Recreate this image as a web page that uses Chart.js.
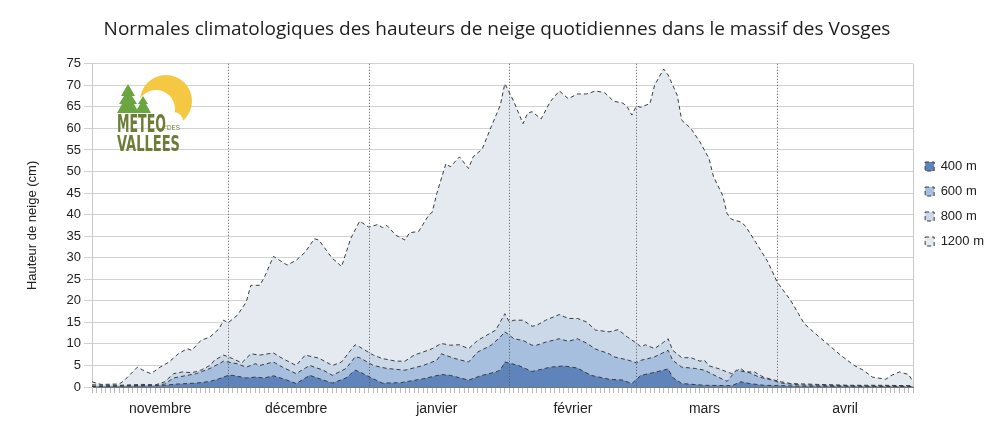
<!DOCTYPE html>
<html lang="fr">
<head>
<meta charset="utf-8">
<script src="https://cdn.jsdelivr.net/npm/chart.js@4"></script>
<style>
  body { margin: 0; background: #fff; }
  #wrap { position: relative; width: 1000px; height: 434px; }
  #logo { position: absolute; left: 0; top: 0; pointer-events: none; }
</style>
</head>
<body>
<div id="wrap">
  <canvas id="snowChart" width="1000" height="434"></canvas>
  <svg id="logo" width="1000" height="434">
    <circle cx="166" cy="101" r="26" fill="#f4c842"/>
    <circle cx="156" cy="109" r="19" fill="#fff"/>
    <circle cx="143" cy="114" r="12" fill="#fff"/>
    <circle cx="174" cy="121" r="9" fill="#fff"/>
    <polygon points="128,84 121,96 124,96 119,104 122,104 117,113 139,113 134,104 137,104 132,96 135,96" fill="#6aa63f"/>
    <polygon points="143,96 138,104 140,104 135,113 151,113 146,104 148,104" fill="#6aa63f"/>
    <text x="117" y="132" font-family="Liberation Sans Narrow, DejaVu Sans Condensed, sans-serif" font-weight="bold" font-size="25" fill="#6b7d36" textLength="49" lengthAdjust="spacingAndGlyphs">METEO</text>
    <text x="167" y="130" font-family="Liberation Sans Narrow, sans-serif" font-size="7" fill="#6b7d36" textLength="13" lengthAdjust="spacingAndGlyphs">DES</text>
    <text x="117" y="151" font-family="Liberation Sans Narrow, DejaVu Sans Condensed, sans-serif" font-weight="bold" font-size="22" fill="#6b7d36" textLength="63" lengthAdjust="spacingAndGlyphs">VALLEES</text>
  </svg>
</div>
<script>
// jours comptés depuis le 1er novembre
const months = ['novembre', 'décembre', 'janvier', 'février', 'mars', 'avril'];
const monthStarts = [30, 61, 92, 120, 151];
const monthLabelDays = [15, 45, 76, 106, 135, 166];
const yTicks = [0, 5, 10, 15, 20, 25, 30, 35, 40, 45, 50, 55, 60, 65, 70, 75];

const days400 = [0,14,16,19,23,26,28,30,31,34,36,38,40,43,45,48,51,53,56,58,59,62,64,68,73,77,79,83,86,89,90,91,94,97,101,104,107,110,114,117,119,121,124,127,128,130,135,141,143,145,148,156,181];
const snow400 = [0.1,0.3,0.4,0.7,0.9,1.3,1.9,2.7,2.7,2.1,2.3,2.1,2.6,1.6,0.8,2.7,1.6,0.9,2.1,3.9,3.5,1.9,0.9,1.0,1.9,2.9,2.7,1.6,2.7,3.5,3.9,5.8,5.0,3.6,4.6,4.9,4.4,2.7,1.8,1.6,0.8,2.7,3.4,4.2,2.2,0.8,0.4,0.3,1.2,0.8,0.4,0.2,0.1];

const days600 = [0,14,16,18,21,23,26,28,29,32,34,36,37,40,42,45,48,51,53,56,58,59,62,65,69,73,76,77,80,83,85,88,90,91,93,95,97,98,100,103,105,107,109,111,114,115,118,120,121,123,124,127,128,130,133,135,138,140,142,145,147,150,152,156,167,181];
const snow600 = [0.2,0.4,0.7,2.1,2.7,3.1,4.3,5.4,6.0,5.4,4.6,5.4,5.0,5.8,4.6,3.1,5.0,3.9,2.7,4.3,7.0,6.8,5.0,4.3,3.9,5.0,6.2,7.7,6.6,5.8,8.1,9.7,11.6,12.8,11.2,10.8,9.7,9.7,10.4,11.2,10.6,11.2,10.2,8.8,7.7,7.0,6.3,5.6,6.2,6.7,7.0,8.5,6.2,4.6,4.3,3.9,2.3,1.3,3.9,3.3,2.3,1.6,0.9,0.5,0.3,0.2];

const days800 = [0,6,11,14,16,18,20,22,24,26,27,29,31,33,35,37,40,42,45,47,50,53,55,57,58,59,62,64,67,69,71,74,75,77,79,81,83,85,87,89,91,92,93,95,97,98,100,103,105,107,109,111,114,116,118,120,121,122,124,126,127,128,130,132,134,135,136,138,140,141,143,144,146,148,150,152,154,160,167,174,181];
const snow800 = [0.5,0.4,0.6,0.5,1.2,3.1,3.5,3.3,3.9,5.0,6.2,7.4,6.6,5.6,7.7,7.4,7.9,6.6,5.0,7.4,6.7,5.0,5.8,8.5,9.8,9.3,7.4,6.6,6.0,6.0,7.4,8.5,8.9,10.1,9.7,9.8,8.9,10.8,12.0,13.2,17.0,15.1,15.5,15.5,14.1,14.3,15.5,16.8,15.9,15.9,15.1,13.2,12.8,13.3,11.6,10.2,9.3,9.8,8.9,10.4,11.2,8.5,6.8,6.8,6.0,6.2,4.9,4.3,3.5,3.1,4.3,3.5,3.5,2.3,1.7,1.2,0.8,0.6,0.4,0.4,0.3];

const days1200 = [0,2,6,7,10,12,13,15,17,19,21,22,24,26,28,29,30,32,34,35,37,38,40,43,45,47,49,50,53,54,55,57,59,61,63,64,65,67,69,70,72,74,75,76,78,79,81,83,84,86,88,90,91,93,95,96,97,99,101,103,105,107,109,111,113,115,117,118,119,120,121,123,124,126,127,129,130,132,134,136,137,139,140,141,143,144,146,149,151,154,157,159,162,165,168,170,172,175,176,178,180,181];
const snow1200 = [1.2,0.6,0.7,1.4,4.6,3.5,3.1,4.6,5.8,7.7,8.9,8.5,10.8,11.6,13.5,15.5,14.9,16.6,19.7,23.6,23.6,25.5,30.3,28.3,29.4,31.3,34.4,34.1,29.8,29.0,27.9,34.4,38.5,37.1,37.7,37.0,37.5,35.2,34.1,35.8,36.1,39.5,40.6,44.9,51.8,51.1,53.4,50.7,53.4,55.2,60.4,65.4,70.4,66.2,61.1,63.5,63.9,62.2,66.2,68.7,66.9,68.0,68.0,68.7,68.3,66.3,65.9,65.0,63.1,65.2,64.9,65.8,70.0,73.8,72.4,67.7,61.9,60.0,56.9,53.0,48.8,44.5,40.2,38.9,38.3,37.4,34.1,29.0,24.4,20.1,14.7,12.8,10.1,7.4,5.0,3.9,2.3,1.8,2.6,3.5,2.9,1.2];

function toPoints(days, values) {
  return days.map((d, i) => ({ x: d, y: values[i] }));
}

function serie(label, days, values, fill) {
  return {
    label: label,
    data: toPoints(days, values),
    backgroundColor: fill,
    borderColor: '#3c3c3c',
    borderWidth: 1,
    borderDash: [4, 3],
    pointRadius: 0,
    tension: 0,
    fill: 'origin'
  };
}

// lignes pointillées des débuts de mois + bord droit
const monthLines = {
  id: 'monthLines',
  afterDatasetsDraw(chart) {
    const { ctx, chartArea, scales } = chart;
    ctx.save();
    ctx.strokeStyle = '#555';
    ctx.lineWidth = 1;
    ctx.setLineDash([1, 2]);
    monthStarts.forEach(d => {
      const x = Math.round(scales.x.getPixelForValue(d)) + 0.5;
      ctx.beginPath();
      ctx.moveTo(x, chartArea.top);
      ctx.lineTo(x, chartArea.bottom);
      ctx.stroke();
    });
    ctx.setLineDash([]);
    ctx.strokeStyle = '#c8c8c8';
    const xr = Math.round(chartArea.right) + 0.5;
    ctx.beginPath();
    ctx.moveTo(xr, chartArea.top);
    ctx.lineTo(xr, chartArea.bottom);
    ctx.stroke();
    ctx.restore();
  }
};

// remonte un peu la légende
const legendShift = {
  id: 'legendShift',
  beforeDraw(chart) {
    const lg = chart.legend;
    if (lg && !lg._shifted) {
      lg.top -= 13;
      lg.bottom -= 13;
      lg._shifted = true;
    }
  }
};

const ctx = document.getElementById('snowChart');

new Chart(ctx, {
  type: 'line',
  data: {
    datasets: [
      serie('400 m', days400, snow400, '#5f84bb'),
      serie('600 m', days600, snow600, '#a6bfdf'),
      serie('800 m', days800, snow800, '#cbd8e8'),
      serie('1200 m', days1200, snow1200, '#e5eaf1')
    ]
  },
  options: {
    responsive: false,
    devicePixelRatio: 1,
    animation: false,
    layout: { padding: { left: 0, right: 6, top: 0, bottom: 0 } },
    scales: {
      x: {
        type: 'linear',
        min: 0,
        max: 181,
        afterBuildTicks: (scale) => {
          const t = [];
          for (let d = 0; d <= 181; d++) t.push({ value: d });
          scale.ticks = t;
        },
        afterFit: (scale) => { scale.height = 47; },
        grid: { drawOnChartArea: false, color: '#bbb', tickLength: 6 },
        border: { color: '#777' },
        ticks: {
          autoSkip: false,
          maxRotation: 0,
          minRotation: 0,
          padding: 8,
          color: '#222',
          font: { family: 'Liberation Sans, Arial, sans-serif', size: 14 },
          callback: (v) => {
            const i = monthLabelDays.indexOf(v);
            return i >= 0 ? months[i] : '';
          }
        }
      },
      y: {
        min: 0,
        max: 75,
        afterBuildTicks: (scale) => { scale.ticks = yTicks.map(v => ({ value: v })); },
        afterFit: (scale) => { scale.width = 92; },
        grid: { color: '#d2d2d2', tickLength: 8 },
        border: { color: '#c8c8c8' },
        ticks: {
          padding: 3,
          color: '#222',
          font: { family: 'Liberation Sans, Arial, sans-serif', size: 13 }
        },
        title: {
          display: true,
          text: 'Hauteur de neige (cm)',
          color: '#222',
          padding: { top: 25, bottom: 0 },
          font: { family: 'Liberation Sans, Arial, sans-serif', size: 13 }
        }
      }
    },
    plugins: {
      title: {
        display: true,
        text: 'Normales climatologiques des hauteurs de neige quotidiennes dans le massif des Vosges',
        color: '#1e1e1e',
        padding: { top: 18, bottom: 23 },
        font: { family: 'Open Sans, sans-serif', size: 19, weight: 'normal' }
      },
      legend: {
        position: 'right',
        labels: {
          boxWidth: 9,
          boxHeight: 9,
          padding: 12,
          color: '#222',
          font: { family: 'Liberation Sans, Arial, sans-serif', size: 13 }
        }
      },
      tooltip: { enabled: false }
    }
  },
  plugins: [monthLines, legendShift]
});
</script>
</body>
</html>
